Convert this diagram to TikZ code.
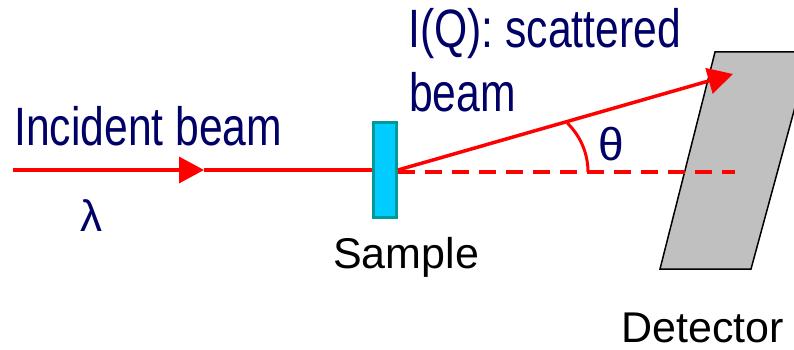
\documentclass[tikz,border=0pt]{standalone}
\usepackage{fontspec}
\setmainfont{Liberation Sans}
\newfontfamily\narrowfont[FakeStretch=0.79]{Liberation Sans}
\usetikzlibrary{arrows.meta}
\definecolor{navy}{RGB}{0,0,102}
\definecolor{beamred}{RGB}{255,0,0}
\definecolor{samplefill}{RGB}{0,204,255}
\definecolor{sampleedge}{RGB}{0,153,153}
\definecolor{detgray}{RGB}{192,192,192}
\tikzset{
  bigtext/.style={inner sep=0pt, anchor=base west, text=navy, font=\narrowfont\fontsize{54}{64}\selectfont},
  symtext/.style={inner sep=0pt, anchor=base west, text=navy, font=\fontsize{44}{50}\selectfont},
  labeltext/.style={inner sep=0pt, anchor=base west, text=black, font=\fontsize{43}{50}\selectfont},
  beam/.style={draw=beamred, line width=3.5pt},
  beamtip/.style={-{Triangle[length=25pt,width=26pt]}},
  samplebox/.style={draw=sampleedge, fill=samplefill, line width=3pt, minimum width=23.6pt, minimum height=95.6pt, inner sep=0pt},
}
\begin{document}
\begin{tikzpicture}[x=1pt,y=-1pt]
\useasboundingbox (0,0) rectangle (794,350);
\begin{scope}
\clip (0,0) rectangle (794,350);
% detector
\draw[fill=detgray, draw=black, line width=1.5pt] (715,52) -- (810,52) -- (751,269) -- (660,269) -- cycle;
\end{scope}
% sample
\node[samplebox] (sample) at (385,170) {};
% coordinates
\coordinate (src) at (13,170);
\coordinate (mid) at (204,170);
\coordinate (dtip) at (733,74);
\coordinate (dend) at (735,172);
\coordinate (sout) at (398,170);
\coordinate (sdash) at (398,172);
% incident beam
\draw[beam, beamtip] (src) -- (mid);
\draw[beam] (mid) -- (sample.west);
% dashed continuation
\draw[beam, dash pattern=on 17pt off 10pt] (sdash) -- (dend);
% scattered beam
\draw[beam, beamtip] (sout) -- (dtip);
% angle arc
\draw[beam, line width=3pt] (588,172) arc[start angle=0, end angle=-46, radius=68];
% texts
\node[bigtext] (inc) at (14,145) {Incident beam};
\node[bigtext] (iq) at (408,48) {I(Q): scattered};
\node[bigtext] (iqb) at (409,112) {beam};
\node[symtext] (lam) at (80,231.7) {λ};
\node[symtext, font=\fontsize{46}{50}\selectfont] (theta) at (598,160) {θ};
\node[labeltext] (samp) at (333,268) {Sample};
\node[labeltext] (det) at (621,342) {Detector};
\end{tikzpicture}
\end{document}
